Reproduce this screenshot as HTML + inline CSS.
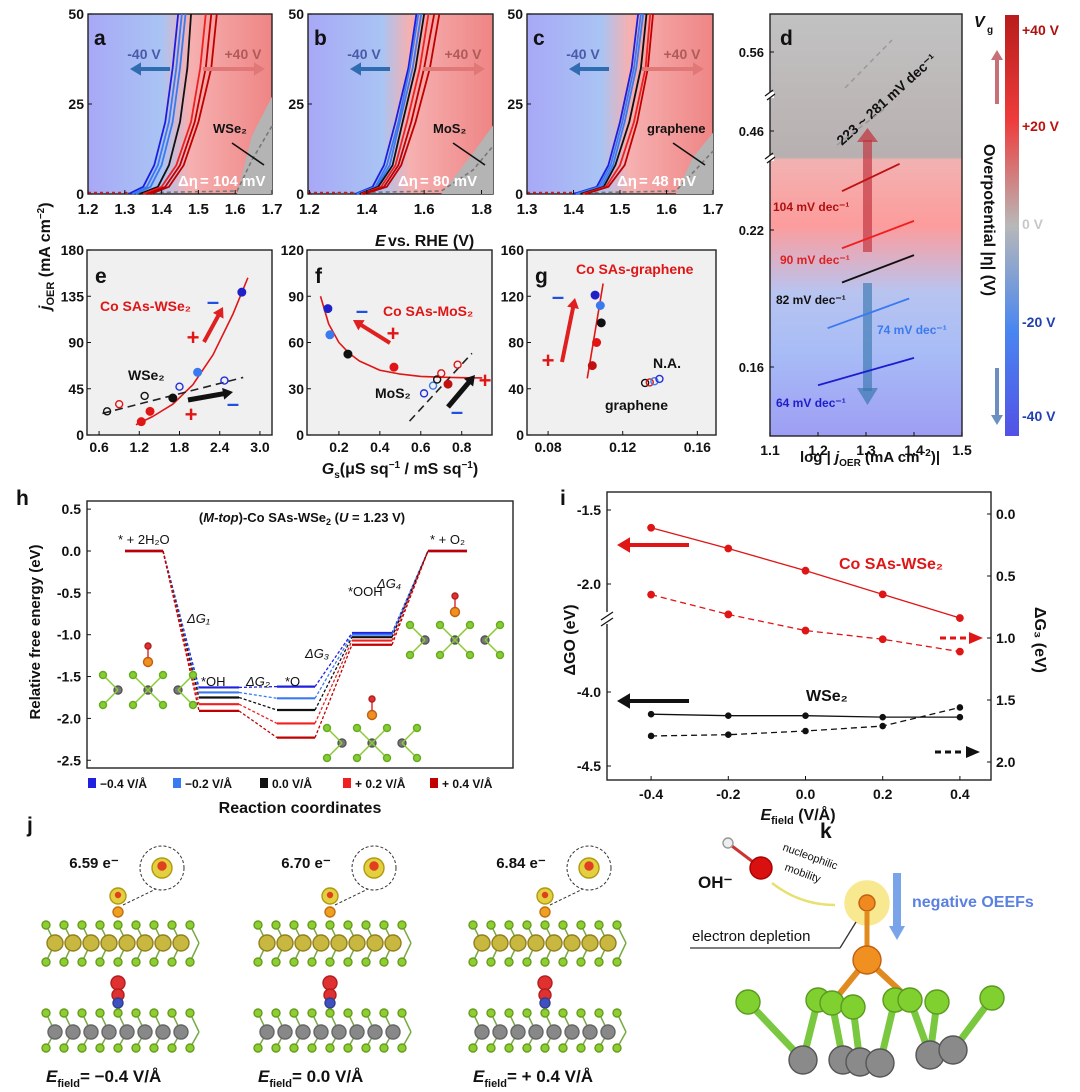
<!DOCTYPE html>
<html><head><meta charset="utf-8"><style>
body{margin:0;background:#fff;}
svg{display:block;font-family:"Liberation Sans",Arial,sans-serif;}
</style></head><body>
<svg id="fig" width="1080" height="1092" viewBox="0 0 1080 1092" xmlns="http://www.w3.org/2000/svg">
<defs>
<linearGradient id="br" x1="0" x2="1" y1="0" y2="0"><stop offset="0" stop-color="#a8a8f6"/><stop offset="0.4" stop-color="#a9c4f4"/><stop offset="0.55" stop-color="#f6b0b0"/><stop offset="1" stop-color="#ef8585"/></linearGradient>
<linearGradient id="dg" x1="0" x2="0" y1="0" y2="1"><stop offset="0" stop-color="#c2c2c2"/><stop offset="0.34" stop-color="#b8b0b0"/><stop offset="0.345" stop-color="#f2b2b2"/><stop offset="0.5" stop-color="#fd9c9c"/><stop offset="0.66" stop-color="#b8c4f0"/><stop offset="0.8" stop-color="#a8bcf6"/><stop offset="1" stop-color="#9e9ef4"/></linearGradient>
<linearGradient id="cb" x1="0" x2="0" y1="0" y2="1"><stop offset="0" stop-color="#b81c1c"/><stop offset="0.25" stop-color="#ee3c3c"/><stop offset="0.5" stop-color="#b8b8b8"/><stop offset="0.75" stop-color="#4a86f0"/><stop offset="1" stop-color="#5252e6"/></linearGradient>
</defs>
<g id="abc"></g>
<g id="efg"></g>
<g id="d"></g>
<g id="h"></g>
<g id="i"></g>
<g id="jk"></g>
</svg>
<script>
// ===== panel i data =====
const iFields=[-0.4,-0.2,0,0.2,0.4];
const iGoCo=[-1.62,-1.76,-1.91,-2.07,-2.23];
const iG3Co=[0.65,0.81,0.94,1.01,1.11];
const iGoWSe2=[-4.15,-4.16,-4.16,-4.17,-4.17];
const iG3WSe2=[1.79,1.78,1.75,1.71,1.56];
const iLeftTicks=["-1.5","-2.0","-4.0","-4.5"];
const iRightTicks=["0.0","0.5","1.0","1.5","2.0"];
const iXTicks=["-0.4","-0.2","0.0","0.2","0.4"];
// ===== panel h data =====
const hStates=["*+2H2O","*OH","*O","*OOH","*+O2"];
const hSeriesNames=["\u22120.4 V/Å","\u22120.2 V/Å","0.0 V/Å","+ 0.2 V/Å","+ 0.4 V/Å"];
const hM04=[0,-1.63,-1.62,-0.98,0];
const hM02=[0,-1.69,-1.76,-1.00,0];
const hZero=[0,-1.75,-1.90,-1.03,0];
const hP02=[0,-1.83,-2.06,-1.07,0];
const hP04=[0,-1.91,-2.23,-1.12,0];
const hTicks=[0.5,0.0,-0.5,-1.0,-1.5,-2.0,-2.5];
// ===== panel e/f/g data =====
const eCoX=[1.23,1.36,1.70,2.07,2.73];
const eCoY=[13,23,36,61,139];
const eFitX=[1.15,1.4,1.7,2.0,2.3,2.6,2.82];
const eFitY=[10,18,30,49,78,118,153];
const eWX=[0.72,0.90,1.28,1.80,2.47];
const eWY=[23,30,38,47,53];
const eWFitX=[0.65,2.75];
const eWFitY=[21,56];
const fCoX=[0.146,0.156,0.244,0.469,0.733];
const fCoY=[82,65,52.5,44,33];
const fFitX=[0.11,0.15,0.2,0.25,0.3,0.4,0.5,0.6,0.7,0.8,0.9];
const fFitY=[90,72,60,53,48,42,39.5,38,37.5,37.2,37];
const fMX=[0.616,0.66,0.68,0.70,0.78];
const fMY=[27,32,36,40,45.6];
const fMFitX=[0.545,0.85];
const fMFitY=[9,53];
const gCoX=[0.1052,0.108,0.1085,0.106,0.1037];
const gCoY=[121,112,97,80,60];
const gFitX=[0.101,0.1095];
const gFitY=[49,131];
const gGX=[0.132,0.1345,0.137,0.1397];
const gGY=[45,45.5,46.5,48.5];
// ===== panel a/b/c data (E at fixed current densities) =====
const lsvJ=[0,2,8,20,35,50];
const aBlue=[[1.31,1.35,1.38,1.41,1.43,1.445],[1.32,1.36,1.39,1.42,1.44,1.455],[1.33,1.37,1.40,1.43,1.45,1.465]];
const aBlack=[1.34,1.39,1.42,1.45,1.47,1.48];
const aRed=[[1.35,1.40,1.44,1.48,1.505,1.52],[1.36,1.41,1.45,1.49,1.52,1.535],[1.37,1.42,1.46,1.50,1.535,1.55]];
const bBlue=[[1.36,1.42,1.46,1.50,1.545,1.573],[1.365,1.43,1.47,1.51,1.55,1.58],[1.37,1.435,1.48,1.515,1.56,1.59]];
const bBlack=[1.375,1.44,1.49,1.525,1.57,1.60];
const bRed=[[1.38,1.45,1.50,1.54,1.585,1.615],[1.385,1.46,1.51,1.555,1.60,1.635],[1.39,1.47,1.52,1.57,1.62,1.653]];
const cBlue=[[1.40,1.45,1.475,1.50,1.525,1.539],[1.405,1.455,1.48,1.505,1.53,1.545],[1.41,1.46,1.485,1.51,1.535,1.55]];
const cBlack=[1.415,1.465,1.49,1.52,1.545,1.557];
const cRed=[[1.42,1.47,1.50,1.53,1.555,1.565],[1.425,1.475,1.51,1.537,1.56,1.571]];
// ===== panel d data =====
const dTafelX1=[1.2,1.22,1.25,1.25,1.25];
const dTafelY1=[0.152,0.177,0.197,0.212,0.237];
const dTafelX2=[1.4,1.39,1.4,1.4,1.37];
const dTafelY2=[0.164,0.190,0.209,0.224,0.249];
const dTafelLabels=["64 mV dec\u207B\u00B9","74 mV dec\u207B\u00B9","82 mV dec\u207B\u00B9","90 mV dec\u207B\u00B9","104 mV dec\u207B\u00B9"];
const dXTicks=[1.1,1.2,1.3,1.4,1.5];

const NS="http://www.w3.org/2000/svg";
function mk(parent,tag,attrs,text){const e=document.createElementNS(NS,tag);for(const k in attrs)e.setAttribute(k,attrs[k]);if(text!==undefined)e.textContent=text;document.getElementById(parent).appendChild(e);return e;}
function txt(p,x,y,s,opt){opt=opt||{};const e=mk(p,"text",{x:x,y:y,"font-size":opt.size||14,"font-weight":opt.bold===false?"normal":"bold",fill:opt.fill||"#111","text-anchor":opt.anchor||"start","font-style":opt.italic?"italic":"normal"},s);if(opt.rot)e.setAttribute("transform","rotate("+opt.rot+" "+x+" "+y+")");


return e;}
function ln(p,x1,y1,x2,y2,st,w,dash){const e=mk(p,"line",{x1:x1,y1:y1,x2:x2,y2:y2,stroke:st,"stroke-width":w||1.5});if(dash)e.setAttribute("stroke-dasharray",dash);


return e;}
function poly(p,pts,st,w,dash,name){const e=mk(p,"polyline",{points:pts.map(q=>q.join(",")).join(" "),fill:"none",stroke:st,"stroke-width":w||1.5,"stroke-linejoin":"round"});if(dash)e.setAttribute("stroke-dasharray",dash);


return e;}
function box(p,x,y,w,h,fill,name){const e=mk(p,"rect",{x:x,y:y,width:w,height:h,fill:fill||"none",stroke:"#222","stroke-width":1.4});


return e;}
function dot(p,x,y,r,fill,stroke,name){const e=mk(p,"circle",{cx:x,cy:y,r:r,fill:fill,stroke:stroke||fill,"stroke-width":1.4});


return e;}
function arrow(p,x1,y1,x2,y2,col,w,head){const a=Math.atan2(y2-y1,x2-x1),h=head||9;
ln(p,x1,y1,x2-Math.cos(a)*h*0.8,y2-Math.sin(a)*h*0.8,col,w||3);
const e=mk(p,"polygon",{points:`${x2},${y2} ${x2-h*Math.cos(a)+h*0.6*Math.sin(a)},${y2-h*Math.sin(a)-h*0.6*Math.cos(a)} ${x2-h*Math.cos(a)-h*0.6*Math.sin(a)},${y2-h*Math.sin(a)+h*0.6*Math.cos(a)}`,fill:col});

}
function sign(p,x,y,s,col){txt(p,x,y,s,{size:22,fill:col,anchor:"middle",name:"bias-sign"});}

// ===== a b c =====
const abc=[{x0:88,x1:272,e0:1.2,e1:1.7,ticks:[1.2,1.3,1.4,1.5,1.6,1.7],L:"a",B:aBlue,K:aBlack,R:aRed,lab:"WSe\u2082",eta:"104",g0:1.605,gTop:27},
{x0:308,x1:493,e0:1.195,e1:1.84,ticks:[1.2,1.4,1.6,1.8],L:"b",B:bBlue,K:bBlack,R:bRed,lab:"MoS\u2082",eta:"80",g0:1.66,gTop:19},
{x0:527,x1:713,e0:1.3,e1:1.7,ticks:[1.3,1.4,1.5,1.6,1.7],L:"c",B:cBlue,K:cBlack,R:cRed,lab:"graphene",eta:"48",g0:1.62,gTop:17}];
const yT=14,yB=194;
abc.forEach(P=>{
  const sx=e=>P.x0+(e-P.e0)/(P.e1-P.e0)*(P.x1-P.x0), sy=j=>yB-j/50*(yB-yT);
  box("abc",P.x0,yT,P.x1-P.x0,yB-yT,"url(#br)","panel-"+P.L+"-frame");
  const g=mk("abc","polygon",{points:`${P.x1},${yB} ${sx(P.g0)},${yB} ${P.x1-20},${sy(P.gTop*0.6)} ${P.x1},${sy(P.gTop)}`,fill:"#b4b4b4"});
  
  
  poly("abc",[[sx(P.e0+0.1),yB-1],[sx(P.g0),yB-3],[P.x1-20,sy(P.gTop*0.35)],[P.x1,sy(P.gTop*0.7)]],"#777",1.6,"4,3","bare-curve");
  ln("abc",P.x0,yB-1.5,sx(P.B[0][0]),yB-1.5,"#e01515",1.6,"3,3");
  P.B.forEach((s,k)=>poly("abc",s.map((e,i)=>[sx(e),sy(lsvJ[i])]),k==0?"#1d1de0":"#3a7af0",1.8,null,"lsv-neg"));
  poly("abc",P.K.map((e,i)=>[sx(e),sy(lsvJ[i])]),"#111",1.8,null,"lsv-zero");
  P.R.forEach((s,k)=>poly("abc",s.map((e,i)=>[sx(e),sy(lsvJ[i])]),k==0?"#f02020":"#c00000",1.8,null,"lsv-pos"));
  P.ticks.forEach(t=>{ln("abc",sx(t),yB,sx(t),yB-4,"#111",1);txt("abc",sx(t),yB+20,t.toFixed(1),{anchor:"middle",size:15,name:"x-tick"});});
  [0,25,50].forEach(t=>{ln("abc",P.x0,sy(t),P.x0+4,sy(t),"#111",1);txt("abc",P.x0-4,sy(t)+5,String(t),{anchor:"end",size:14,name:"y-tick"});});
  txt("abc",P.x0+6,yT+31,P.L,{size:21,name:"panel-label"});
  txt("abc",P.x0+56,yT+45,"-40 V",{size:14,fill:"#4a5aa8",anchor:"middle",name:"neg-bias-label"});
  txt("abc",P.x0+155,yT+45,"+40 V",{size:14,fill:"#b05a5a",anchor:"middle",name:"pos-bias-label"});
  arrow("abc",P.x0+82,yT+55,P.x0+42,yT+55,"#2f6cb0",4,11);
  arrow("abc",P.x0+115,yT+55,P.x0+177,yT+55,"#e07878",4,11);
  txt("abc",P.x0+(P.L=="c"?120:125),yT+119,P.lab,{size:13,name:"substrate-label"});
  ln("abc",P.x1-40,yT+129,P.x1-8,yT+151,"#111",1.6);
  txt("abc",P.x0+90,yB-8,"\u0394\u03B7",{size:15,fill:"#fff",name:"delta-eta"});
  txt("abc",P.x0+112,yB-8,"= "+P.eta+" mV",{size:15,fill:"#fff",name:"delta-eta-value"});
});
txt("abc",375,246,"E",{size:16,italic:true,name:"x-axis-title-abc"});
txt("abc",388,246,"vs. RHE (V)",{size:16,name:"x-axis-title-abc-rest"});
(function(){const e=mk("abc","text",{x:50,y:310,"font-size":16,"font-weight":"bold",fill:"#111",transform:"rotate(-90 50 310)"});


e.innerHTML='<tspan font-style="italic">j</tspan><tspan font-size="11" dy="4">OER</tspan><tspan dy="-4"> (mA cm</tspan><tspan font-size="10" dy="-6">−2</tspan><tspan dy="6">)</tspan>';})();

// ===== e f g =====
const fy0=435,fy1=250;
function panelSmall(L,x0,x1,xmin,xmax,ymax,xticks,yticks,fmt){
  const sx=v=>x0+(v-xmin)/(xmax-xmin)*(x1-x0), sy=v=>fy0-v/ymax*(fy0-fy1);
  box("efg",x0,fy1,x1-x0,fy0-fy1,"#f0f0f0","panel-"+L+"-frame");
  xticks.forEach(t=>{ln("efg",sx(t),fy0,sx(t),fy0-4,"#111",1);txt("efg",sx(t),fy0+17,t.toFixed(fmt),{anchor:"middle",size:14,name:"x-tick"});});
  yticks.forEach(t=>{ln("efg",x0,sy(t),x0+4,sy(t),"#111",1);txt("efg",x0-3,sy(t)+5,String(t),{anchor:"end",size:14,name:"y-tick"});});
  txt("efg",x0+8,fy1+33,L,{size:21,name:"panel-label"});
  return {sx,sy};
}
let S=panelSmall("e",87,272,0.42,3.18,180,[0.6,1.2,1.8,2.4,3.0],[0,45,90,135,180],1);
poly("efg",eFitX.map((x,k)=>[S.sx(x),S.sy(eFitY[k])]),"#e01515",1.6,null,"co-fit");
poly("efg",eWFitX.map((x,k)=>[S.sx(x),S.sy(eWFitY[k])]),"#222",1.6,"8,5","wse2-fit");
eWX.forEach((x,k)=>dot("efg",S.sx(x),S.sy(eWY[k]),3.5,"none",["#111","#e01515","#111","#2030e0","#2030e0"][k],"wse2-point"));
eCoX.forEach((x,k)=>dot("efg",S.sx(x),S.sy(eCoY[k]),3.8,["#e01515","#e01515","#111","#3a7af0","#2020c8"][k],null,"co-point"));
txt("efg",100,311,"Co SAs-WSe\u2082",{size:14,fill:"#e01515",name:"series-label"});
txt("efg",128,380,"WSe\u2082",{size:14,name:"series-label"});
sign("efg",193,345,"+","#e01515");sign("efg",213,309,"\u2013","#2050e0");arrow("efg",204,342,223,307,"#e02020",4,10);
arrow("efg",188,400,233,392,"#111",5,10);sign("efg",233,411,"\u2013","#2050e0");sign("efg",191,422,"+","#e01515");
S=panelSmall("f",307,492,0.044,0.948,120,[0.2,0.4,0.6,0.8],[0,30,60,90,120],1);
poly("efg",fFitX.map((x,k)=>[S.sx(x),S.sy(fFitY[k])]),"#e01515",1.6,null,"co-fit");
poly("efg",fMFitX.map((x,k)=>[S.sx(x),S.sy(fMFitY[k])]),"#222",1.6,"8,5","mos2-fit");
fCoX.forEach((x,k)=>dot("efg",S.sx(x),S.sy(fCoY[k]),3.8,["#2020c8","#3a7af0","#111","#e01515","#c01010"][k],null,"co-point"));
fMX.forEach((x,k)=>dot("efg",S.sx(x),S.sy(fMY[k]),3.5,"none",["#2030e0","#3a7af0","#111","#e01515","#e01515"][k],"mos2-point"));
txt("efg",383,316,"Co SAs-MoS\u2082",{size:14,fill:"#e01515",name:"series-label"});
txt("efg",375,398,"MoS\u2082",{size:14,name:"series-label"});
arrow("efg",390,343,353,320,"#e02020",4,10);sign("efg",362,318,"\u2013","#2050e0");sign("efg",393,341,"+","#e01515");
arrow("efg",448,407,475,375,"#111",5,10);sign("efg",485,388,"+","#e01515");sign("efg",457,419,"\u2013","#2050e0");
S=panelSmall("g",527,716,0.0687,0.170,160,[0.08,0.12,0.16],[0,40,80,120,160],2);
poly("efg",gFitX.map((x,k)=>[S.sx(x),S.sy(gFitY[k])]),"#e01515",1.6,null,"co-fit");
gCoX.forEach((x,k)=>dot("efg",S.sx(x),S.sy(gCoY[k]),3.8,["#2020c8","#3a7af0","#111","#e01515","#c01010"][k],null,"co-point"));
gGX.forEach((x,k)=>dot("efg",S.sx(x),S.sy(gGY[k]),3.5,"none",["#111","#e01515","#3a7af0","#2030e0"][k],"graphene-point"));
txt("efg",576,274,"Co SAs-graphene",{size:14,fill:"#e01515",name:"series-label"});
txt("efg",653,368,"N.A.",{size:14,name:"label-na"});
txt("efg",605,410,"graphene",{size:14,name:"series-label"});
sign("efg",558,304,"\u2013","#2050e0");sign("efg",548,368,"+","#e01515");arrow("efg",562,362,575,298,"#e02020",4,10);
(function(){const e=mk("efg","text",{x:400,y:474,"font-size":16,"font-weight":"bold",fill:"#111","text-anchor":"middle"});


e.innerHTML='<tspan font-style="italic">G</tspan><tspan font-size="10" dy="4">s</tspan><tspan dy="-4">(μS sq</tspan><tspan font-size="10" dy="-6">−1</tspan><tspan dy="6"> / mS sq</tspan><tspan font-size="10" dy="-6">−1</tspan><tspan dy="6">)</tspan>';})();

// ===== d =====
const dx0=770,dx1=962,dyT=14,dyB=436;
box("d",dx0,dyT,dx1-dx0,dyB-dyT,"url(#dg)","panel-d-frame");
const dsx=v=>dx0+(v-1.1)/0.4*(dx1-dx0);
const dsy=v=>367-(v-0.16)/0.06*137;
dXTicks.forEach(t=>{ln("d",dsx(t),dyB,dsx(t),dyB-4,"#111",1);txt("d",dsx(t),dyB+19,t.toFixed(1),{anchor:"middle",size:14,name:"x-tick"});});
[["0.16",367],["0.22",230],["0.46",131],["0.56",52]].forEach(t=>{ln("d",dx0,t[1],dx0+4,t[1],"#111",1);txt("d",dx0-6,t[1]+5,t[0],{anchor:"end",size:13,name:"y-tick"});});
[95,158].forEach(y=>{mk("d","rect",{x:dx0-4,y:y-3,width:8,height:6,fill:"#fff"});ln("d",dx0-5,y+1,dx0+3,y-5,"#111",1.2);ln("d",dx0-3,y+5,dx0+5,y-1,"#111",1.2);});
const dArr1=mk("d","rect",{x:863,y:140,width:9,height:112,fill:"#c0303a",opacity:0.65});


mk("d","polygon",{points:"857,142 878,142 867.5,128",fill:"#c0303a",opacity:0.7});
const dArr2=mk("d","rect",{x:863,y:283,width:9,height:108,fill:"#3a78b0",opacity:0.65});


mk("d","polygon",{points:"857,388 878,388 867.5,405",fill:"#3a78b0",opacity:0.7});
const dCols=["#1d1dd0","#3a7af0","#111","#f02020","#c01010"];
dTafelX1.forEach((x,k)=>ln("d",dsx(x),dsy(dTafelY1[k]),dsx(dTafelX2[k]),dsy(dTafelY2[k]),dCols[k],1.8));
txt("d",776,407,dTafelLabels[0],{size:12,fill:"#2020c8",name:"tafel-label"});
txt("d",877,334,dTafelLabels[1],{size:12,fill:"#3a7af0",name:"tafel-label"});
txt("d",776,304,dTafelLabels[2],{size:12,name:"tafel-label"});
txt("d",780,264,dTafelLabels[3],{size:12,fill:"#e02020",name:"tafel-label"});
txt("d",773,211,dTafelLabels[4],{size:12,fill:"#b01010",name:"tafel-label"});
txt("d",842,146,"223 ~ 281 mV dec\u207B\u00B9",{size:14,rot:-42,name:"tafel-label-gray"});
ln("d",845,88,892,40,"#999",1.5,"5,4");ln("d",837,145,887,107,"#999",1.5,"5,4");
txt("d",dx0+10,dyT+31,"d",{size:21,name:"panel-label"});
(function(){const e=mk("d","text",{x:870,y:462,"font-size":15,"font-weight":"bold",fill:"#111","text-anchor":"middle"});


e.innerHTML='log | <tspan font-style="italic">j</tspan><tspan font-size="10" dy="4">OER</tspan><tspan dy="-4"> (mA cm</tspan><tspan font-size="10" dy="-6">−2</tspan><tspan dy="6">)|</tspan>';})();
const cbar=mk("d","rect",{x:1005,y:15,width:14,height:421,fill:"url(#cb)"});


[["+40 V",35,"#b01010"],["+20 V",131,"#c01010"],["0 V",229,"#c8c8c8"],["-20 V",327,"#2040b0"],["-40 V",421,"#2040b0"]].forEach(t=>txt("d",1022,t[1],t[0],{size:14,fill:t[2],name:"colorbar-tick"}));
txt("d",974,27,"V",{size:16,italic:true,name:"colorbar-title"});
txt("d",987,33,"g",{size:10,name:"colorbar-title-sub"});
arrow("d",997,104,997,50,"#c87078",4,10);arrow("d",997,368,997,425,"#6b90c0",4,10);
txt("d",984,220,"Overpotential |\u03B7| (V)",{size:16,rot:90,anchor:"middle",name:"colorbar-axis-title"});

// ===== h =====
const hx0=87,hx1=513,hyT=501,hyB=768;
box("h",hx0,hyT,hx1-hx0,hyB-hyT,"#fff","panel-h-frame");
const hsy=v=>551-v*83.7;
const hSeg=[[125,163],[199,239],[277,315],[352,392],[428,467]];
const hCols=["#2020e0","#3a7af0","#111","#f02020","#c00000"];
[hM04,hM02,hZero,hP02,hP04].forEach((s,k)=>{const c=hCols[k];
  s.forEach((v,i)=>{ln("h",hSeg[i][0],hsy(v),hSeg[i][1],hsy(v),c,2.2);if(i<4)ln("h",hSeg[i][1],hsy(v),hSeg[i+1][0],hsy(s[i+1]),c,1.3,"3,2");});});
hTicks.forEach(t=>{ln("h",hx0,hsy(t),hx0+4,hsy(t),"#111",1);txt("h",hx0-6,hsy(t)+5,t.toFixed(1),{anchor:"end",size:14,name:"y-tick"});});
txt("h",16,505,"h",{size:21,name:"panel-label"});
(function(){const e=mk("h","text",{x:302,y:522,"font-size":13,"font-weight":"bold",fill:"#111","text-anchor":"middle"});


e.innerHTML='(<tspan font-style="italic">M-top</tspan>)-Co SAs-WSe<tspan font-size="9" dy="3">2</tspan><tspan dy="-3"> (</tspan><tspan font-style="italic">U</tspan> = 1.23 V)';})();
txt("h",118,544,"* + 2H\u2082O",{size:13,bold:false,name:"state-label"});
txt("h",430,544,"* + O\u2082",{size:13,bold:false,name:"state-label"});
txt("h",201,686,"*OH",{size:13,bold:false,name:"state-label"});txt("h",285,686,"*O",{size:13,bold:false,name:"state-label"});txt("h",348,596,"*OOH",{size:13,bold:false,name:"state-label"});
txt("h",187,623,"\u0394G\u2081",{size:13,bold:false,italic:true,name:"dg-label"});txt("h",246,686,"\u0394G\u2082",{size:13,bold:false,italic:true,name:"dg-label"});
txt("h",305,658,"\u0394G\u2083",{size:13,bold:false,italic:true,name:"dg-label"});txt("h",377,588,"\u0394G\u2084",{size:13,bold:false,italic:true,name:"dg-label"});
txt("h",40,632,"Relative free energy (eV)",{size:15,rot:-90,anchor:"middle",name:"y-axis-title-h"});
hSeriesNames.forEach((n,k)=>{const x=[88,173,260,343,430][k];const r=mk("h","rect",{x:x,y:778,width:8,height:10,fill:hCols[k]});


txt("h",x+12,788,n,{size:12,name:"legend-entry"});});
txt("h",300,813,"Reaction coordinates",{size:16,anchor:"middle",name:"x-axis-title-h"});
// small molecule sketches in h
function mini(cx,cy){[[-30,0],[0,0],[30,0]].forEach(o=>dot("h",cx+o[0],cy+o[1],4,"#777","#555","w-atom"));
[[-45,-15],[-15,-15],[15,-15],[45,-15],[-45,15],[-15,15],[15,15],[45,15]].forEach(o=>{ln("h",cx+o[0],cy+o[1],cx+o[0]+(o[0]<0?15:-15),cy,"#8c3",1.5);dot("h",cx+o[0],cy+o[1],3.5,"#8c3","#6a2","se-atom");});
dot("h",cx,cy-28,4.5,"#f09020","#c06010","co-atom");ln("h",cx,cy-32,cx,cy-42,"#d33",1.5);dot("h",cx,cy-44,3,"#e03030","#b02020","o-atom");}
mini(148,690);mini(372,743);mini(455,640);

// ===== i =====
const ix0=607,ix1=991,iyT=492,iyB=780;
box("i",ix0,iyT,ix1-ix0,iyB-iyT,"#fff","panel-i-frame");
const isx=v=>805.5+v*386;
const isyL=v=>v>-3?510+(-1.5-v)*148:692+(-4.0-v)*148;
const isyR=v=>514+v*124;
iFields.forEach((t,k)=>{ln("i",isx(t),iyB,isx(t),iyB-4,"#111",1);txt("i",isx(t),iyB+19,iXTicks[k],{anchor:"middle",size:14,name:"x-tick"});});
[-1.5,-2.0,-4.0,-4.5].forEach((t,k)=>{ln("i",ix0,isyL(t),ix0+4,isyL(t),"#111",1);txt("i",ix0-6,isyL(t)+5,iLeftTicks[k],{anchor:"end",size:14,name:"y-tick-left"});});
[0,0.5,1.0,1.5,2.0].forEach((t,k)=>{ln("i",ix1,isyR(t),ix1-4,isyR(t),"#111",1);txt("i",ix1+5,isyR(t)+5,iRightTicks[k],{size:14,name:"y-tick-right"});});
mk("i","rect",{x:600,y:612,width:14,height:12,fill:"#fff"});
ln("i",601,620,613,612,"#111",1.2);ln("i",601,626,613,618,"#111",1.2);
poly("i",iFields.map((f,k)=>[isx(f),isyL(iGoCo[k])]),"#e01515",1.3,null,"co-go");
poly("i",iFields.map((f,k)=>[isx(f),isyR(iG3Co[k])]),"#e01515",1.3,"6,4","co-g3");
poly("i",iFields.map((f,k)=>[isx(f),isyL(iGoWSe2[k])]),"#111",1.3,null,"wse2-go");
poly("i",iFields.map((f,k)=>[isx(f),isyR(iG3WSe2[k])]),"#111",1.3,"6,4","wse2-g3");
iFields.forEach((f,k)=>{dot("i",isx(f),isyL(iGoCo[k]),3.2,"#e01515");dot("i",isx(f),isyR(iG3Co[k]),3.2,"#e01515");dot("i",isx(f),isyL(iGoWSe2[k]),2.6,"#111");dot("i",isx(f),isyR(iG3WSe2[k]),2.6,"#111");});
txt("i",560,505,"i",{size:21,name:"panel-label"});
txt("i",839,569,"Co SAs-WSe\u2082",{size:16,fill:"#e01515",name:"series-label"});
txt("i",806,701,"WSe\u2082",{size:16,name:"series-label"});
arrow("i",689,545,617,545,"#e01515",4,13);
arrow("i",689,701,617,701,"#111",4,13);
ln("i",940,638,968,638,"#e01515",3,"6,4");mk("i","polygon",{points:"983,638 969,632 969,644",fill:"#e01515"});
ln("i",935,752,965,752,"#111",3,"6,4");mk("i","polygon",{points:"980,752 966,746 966,758",fill:"#111"});
txt("i",575,640,"\u0394GO (eV)",{size:16,rot:-90,anchor:"middle",name:"y-axis-title-left"});
txt("i",1035,640,"\u0394G\u2083 (eV)",{size:16,rot:90,anchor:"middle",name:"y-axis-title-right"});
(function(){const e=mk("i","text",{x:798,y:820,"font-size":16,"font-weight":"bold",fill:"#111","text-anchor":"middle"});


e.innerHTML='<tspan font-style="italic">E</tspan><tspan font-size="11" dy="4">field</tspan><tspan dy="-4"> (V/Å)</tspan>';})();

// ===== j & k (structures, schematic) =====
txt("jk",27,832,"j",{size:21,name:"panel-label"});
[[118,"6.59 e\u207B","= \u22120.4 V/Å"],[330,"6.70 e\u207B","= 0.0 V/Å"],[545,"6.84 e\u207B","= + 0.4 V/Å"]].forEach(p=>{
  const cx=p[0];
  txt("jk",cx-24,868,p[1],{size:15,anchor:"middle",name:"charge-label"});
  const c1=mk("jk","circle",{cx:cx+44,cy:868,r:22,fill:"#fff",stroke:"#333","stroke-width":1,"stroke-dasharray":"3,2"});
  
  
  dot("jk",cx+44,868,10,"#e2d040","#b09a10","isosurface");dot("jk",cx+44,866,4,"#e04020","#e04020","atom");
  dot("jk",cx,896,8,"#e2d040","#b09a10","isosurface");dot("jk",cx,895,2.5,"#e04020","#e04020","atom");
  ln("jk",cx+5,905,cx+38,889,"#333",1,"3,2");
  dot("jk",cx,912,5,"#f0a020","#c07010","co-atom");
  for(let k=0;k<9;k++){const x=cx-72+k*18;ln("jk",x,925,x+9,943,"#7a4",1.5);ln("jk",x,962,x+9,943,"#7a4",1.5);}
  for(let k=0;k<9;k++){const x=cx-72+k*18;dot("jk",x,925,4,"#8ccf30","#6a9a20","se-atom");dot("jk",x,962,4,"#8ccf30","#6a9a20","se-atom");}
  for(let k=0;k<8;k++)dot("jk",cx-63+k*18,943,8,"#c8b840","#908020","w-atom");
  dot("jk",cx,983,7,"#e03030","#b02020","o-isosurface");dot("jk",cx,995,6,"#e03030","#b02020","o-isosurface");dot("jk",cx,1003,5,"#4050c0","#304090","co-atom");
  for(let k=0;k<9;k++){const x=cx-72+k*18;ln("jk",x,1013,x+9,1032,"#7a4",1.5);ln("jk",x,1048,x+9,1032,"#7a4",1.5);}
  for(let k=0;k<9;k++){const x=cx-72+k*18;dot("jk",x,1013,4,"#8ccf30","#6a9a20","se-atom");dot("jk",x,1048,4,"#8ccf30","#6a9a20","se-atom");}
  for(let k=0;k<8;k++)dot("jk",cx-63+k*18,1032,7,"#888","#666","w-atom");
  const e=mk("jk","text",{x:cx-72,y:1082,"font-size":17,"font-weight":"bold",fill:"#111"});
  
  
  e.innerHTML='<tspan font-style="italic">E</tspan><tspan font-size="11" dy="5">field</tspan><tspan dy="-5">'+p[2]+'</tspan>';
});
txt("jk",820,838,"k",{size:21,name:"panel-label"});
ln("jk",728,843,761,868,"#c33",3);
dot("jk",728,843,5,"#eee","#999","h-atom");dot("jk",761,868,11,"#d81010","#a00","o-atom");
txt("jk",698,888,"OH\u207B",{size:17,name:"oh-label"});
txt("jk",782,850,"nucleophilic",{size:11,bold:false,rot:20,name:"nucleophilic-label"});txt("jk",784,870,"mobility",{size:11,bold:false,rot:20,name:"mobility-label"});
const yc=mk("jk","path",{d:"M772 883 Q800 905 835 905",fill:"none",stroke:"#e8e070","stroke-width":2.5});


dot("jk",867,903,22,"#f8e890","#f8e890","glow");dot("jk",867,903,8,"#f08a20","#c06010","co-atom");
ln("jk",867,911,867,948,"#e08a20",5);
mk("jk","rect",{x:893,y:873,width:8,height:55,fill:"#7aa4ea"});mk("jk","polygon",{points:"889,926 905,926 897,940",fill:"#7aa4ea"});
txt("jk",912,907,"negative OEEFs",{size:16,fill:"#5a80e0",name:"oeef-label"});
txt("jk",692,941,"electron depletion",{size:15,bold:false,name:"depletion-label"});
ln("jk",690,948,840,948,"#333",1.3);ln("jk",840,948,856,922,"#333",1.3);
const kG=[[748,1002],[818,1000],[832,1003],[853,1007],[895,1000],[910,1000],[937,1002],[992,998]];
const kW=[[803,1060],[843,1060],[860,1062],[880,1063],[930,1055],[953,1050]];
kG.forEach((g,i)=>{const w=kW[Math.min(5,Math.floor(i*0.8))];ln("jk",g[0],g[1],w[0],w[1],"#79c840",7);});
ln("jk",867,960,832,1003,"#e08a20",6);ln("jk",867,960,910,1000,"#e08a20",6);
dot("jk",867,960,14,"#f09020","#c06010","co-atom-big");
kW.forEach(p=>dot("jk",p[0],p[1],14,"#8a8a8a","#555","w-atom"));
kG.forEach(p=>dot("jk",p[0],p[1],12,"#80d030","#5a9a20","se-atom"));
</script>
</body></html>
